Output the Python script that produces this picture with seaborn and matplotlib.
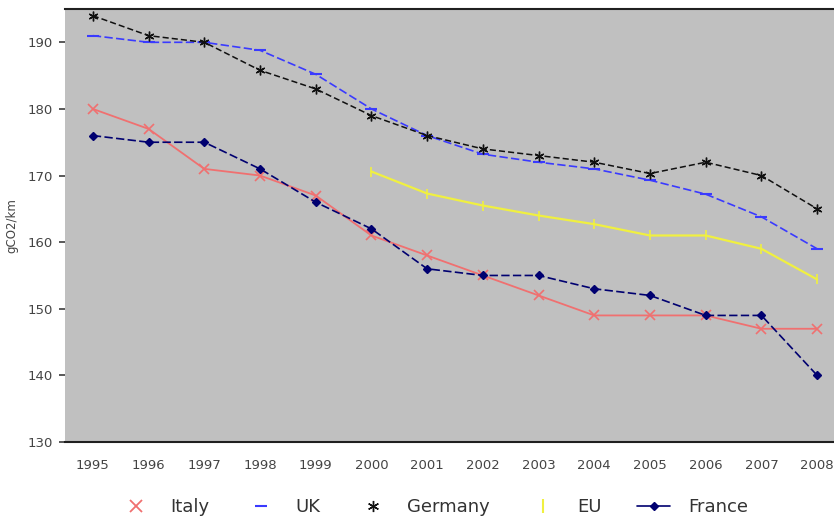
import matplotlib
matplotlib.use("Agg")
import matplotlib.pyplot as plt
from matplotlib.lines import Line2D
import seaborn as sns
import pandas as pd
import numpy as np

years = ["1995", "1996", "1997", "1998", "1999", "2000", "2001",
         "2002", "2003", "2004", "2005", "2006", "2007", "2008"]
italy = [180, 177, 171, 170, 167, 161, 158, 155, 152, 149, 149, 149, 147, 147]
uk = [191, 190, 190, 188.8, 185.2, 180, 176, 173.2, 172, 171, 169.3, 167.2, 163.8, 159]
germany = [194, 191, 190, 185.8, 183, 179, 176, 174, 173, 172, 170.3, 172, 170, 165]
eu = [None, None, None, None, None, 170.6, 167.3, 165.5, 164, 162.7, 161, 161, 159, 154.4]
france = [176, 175, 175, 171, 166, 162, 156, 155, 155, 153, 152, 149, 149, 140]
y_ticks = [130, 140, 150, 160, 170, 180, 190]

sns.set_theme(style="white")
plt.rcParams["font.family"] = ["DejaVu Sans"]

fig = plt.figure(figsize=(8.34, 5.26), dpi=100)
ax = fig.add_axes([65 / 834, (526 - 442) / 526, 780 / 834, 433 / 526])
ax.set_facecolor("#c0c0c0")

x = np.arange(len(years))

series = [
    ("Italy", italy, dict(color="#f07070", marker="x", linestyle="-", markersize=7, linewidth=1.3, mew=1.2)),
    ("UK", uk, dict(color="#3a3aff", marker="_", linestyle=(0, (5, 2)), markersize=8, linewidth=1.2, mew=1.5)),
    ("Germany", germany, dict(color="#101010", marker=(6, 2, 0), linestyle=(0, (4, 2)), markersize=7, linewidth=1.1, mew=1.0)),
    ("EU", eu, dict(color="#f0f040", marker="|", linestyle="-", markersize=7, linewidth=1.6, mew=1.2)),
    ("France", france, dict(color="#000070", marker="D", linestyle=(0, (5, 2)), markersize=4.5, linewidth=1.2, mew=1.0)),
]

for name, vals, st in series:
    df = pd.DataFrame({"x": x, "y": pd.array(vals, dtype="Float64").astype(float)})
    df = df.dropna()
    sns.lineplot(data=df, x="x", y="y", ax=ax, color=st["color"],
                 marker=st["marker"], markersize=st["markersize"],
                 markeredgewidth=st["mew"], markeredgecolor=st["color"],
                 linewidth=st["linewidth"], linestyle=st["linestyle"] if isinstance(st["linestyle"], str) else "-",
                 dashes=False, legend=False)
    if not isinstance(st["linestyle"], str):
        ax.lines[-1].set_linestyle(st["linestyle"])

ax.set_xlim(-0.5, len(years) - 0.5)
ax.set_ylim(130, 195)
ax.set_xticks(x)
ax.set_xticklabels(years, fontsize=9.5, color="#444444")
ax.set_xticks(np.arange(-0.5, len(years) + 0.5, 1), minor=True)
ax.tick_params(axis="x", which="major", length=0, pad=12)
ax.tick_params(axis="x", which="minor", length=4, color="#222222", direction="out")
ax.set_yticks(y_ticks)
ax.set_yticklabels([str(v) for v in y_ticks], fontsize=9.5, color="#444444")
ax.tick_params(axis="y", length=4, color="#444444", direction="out", left=True, pad=5)
ax.set_xlabel("")
ax.set_ylabel("gCO2/km", fontsize=8.5, color="#444444", labelpad=6)

for s in ["top", "bottom"]:
    ax.spines[s].set_visible(True)
    ax.spines[s].set_color("#202020")
    ax.spines[s].set_linewidth(1.5)
ax.spines["left"].set_visible(False)
ax.spines["right"].set_visible(False)

handles = [
    Line2D([], [], color="#f07070", marker="x", linestyle="none", markersize=8, mew=1.3),
    Line2D([], [], color="#3a3aff", marker="_", linestyle="none", markersize=8, mew=1.5),
    Line2D([], [], color="#101010", marker=(6, 2, 0), linestyle="none", markersize=8),
    Line2D([], [], color="#f0f040", marker="|", linestyle="none", markersize=10, mew=1.5),
    Line2D([], [], color="#000070", marker="D", linestyle="-", markersize=4.5, linewidth=1.2),
]
fig.legend(handles, ["Italy", "UK", "Germany", "EU", "France"], loc="center",
           bbox_to_anchor=(0.52, (526 - 507) / 526), ncol=5, frameon=False,
           fontsize=13, handlelength=1.8, handletextpad=1.0, columnspacing=2.0,
           labelcolor="#333333")

fig.savefig("out.png", dpi=100)
